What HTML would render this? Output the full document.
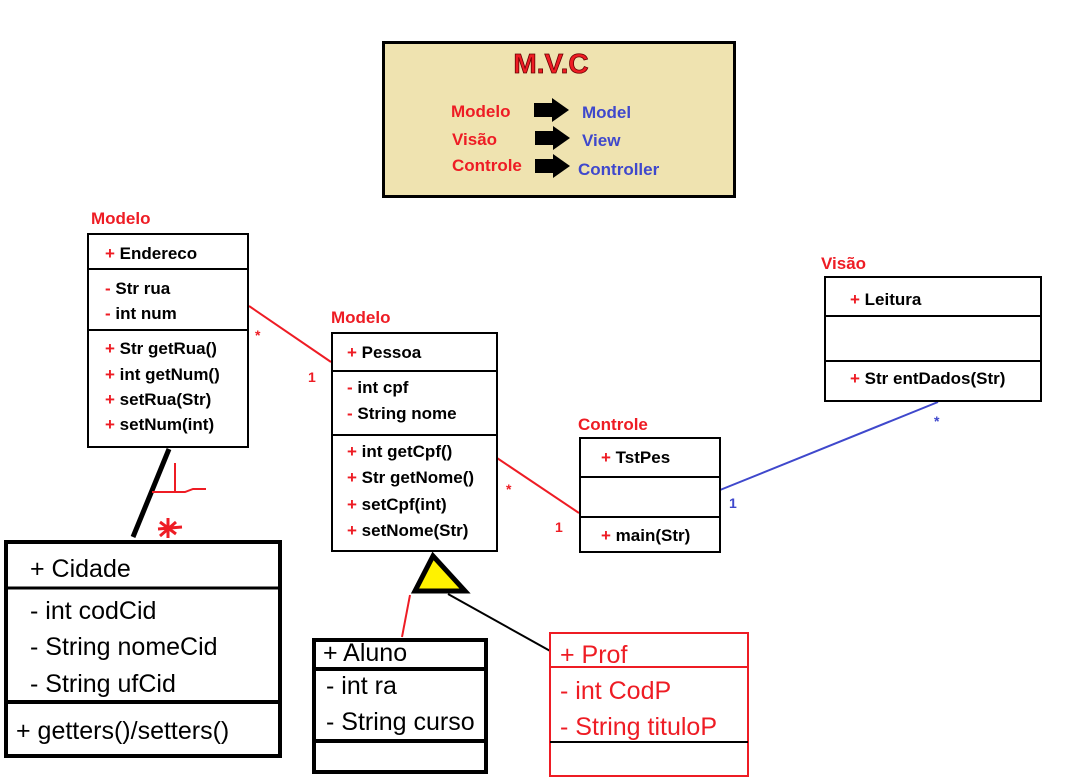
<!DOCTYPE html>
<html><head><meta charset="utf-8"><style>
html,body{margin:0;padding:0;background:#fff;width:1074px;height:782px;overflow:hidden}
svg{display:block}
.b{font-family:"Liberation Sans",sans-serif;font-weight:bold;font-size:17px}
.n{font-family:"Liberation Sans",sans-serif;font-size:25px}
</style></head><body>
<svg width="1074" height="782" viewBox="0 0 1074 782" xmlns="http://www.w3.org/2000/svg">
<rect x="383.5" y="42.5" width="351" height="154" fill="#efe3b0" stroke="#000" stroke-width="3"/>
<text x="551" y="73" text-anchor="middle" font-family="Liberation Sans,sans-serif" font-weight="bold" font-size="28" fill="#ee1c24" stroke="#600" stroke-width="0.8">M.V.C</text>
<g class="b" fill="#ee1c24">
<text x="451" y="117">Modelo</text>
<text x="452" y="145">Visão</text>
<text x="452" y="171">Controle</text>
</g>
<g class="b" fill="#3f48cc">
<text x="582" y="118">Model</text>
<text x="582" y="146">View</text>
<text x="578" y="175">Controller</text>
</g>
<g fill="#000">
<polygon points="534,103 552,103 552,98 569,110 552,122 552,117 534,117"/>
<polygon points="535,131 553,131 553,126 570,138 553,150 553,145 535,145"/>
<polygon points="535,159 553,159 553,154 570,166 553,178 553,173 535,173"/>
</g>
<g class="b" fill="#ee1c24">
<text x="91" y="224">Modelo</text>
<text x="331" y="323">Modelo</text>
<text x="578" y="430">Controle</text>
<text x="821" y="269">Visão</text>
</g>
<line x1="249" y1="306" x2="331" y2="362" stroke="#ee1c24" stroke-width="2"/>
<line x1="497" y1="458" x2="579" y2="513" stroke="#ee1c24" stroke-width="2"/>
<line x1="720" y1="490" x2="938" y2="402" stroke="#3f48cc" stroke-width="2"/>
<line x1="169" y1="449" x2="133" y2="537" stroke="#000" stroke-width="5"/>
<path d="M175,463 L175,492 M152,492 L185,492 L193,489 L206,489" stroke="#ee1c24" stroke-width="2" fill="none"/>
<path d="M160,522 L176,534 M176,522 L160,536 M168,518 L168,538 M158,529 L182,527" stroke="#ee1c24" stroke-width="3" fill="none"/>
<g class="b" fill="#ee1c24">
<text x="255" y="340" font-size="14">*</text>
<text x="308" y="382" font-size="14">1</text>
<text x="506" y="494" font-size="14">*</text>
<text x="555" y="532" font-size="14">1</text>
</g>
<g class="b" fill="#3f48cc">
<text x="729" y="508" font-size="14">1</text>
<text x="934" y="426" font-size="14">*</text>
</g>
<line x1="410" y1="595" x2="402" y2="637" stroke="#ee1c24" stroke-width="2"/>
<line x1="448" y1="594" x2="552" y2="652" stroke="#000" stroke-width="2"/>
<polygon points="433,556 415,591 465,591" fill="#fff200" stroke="#000" stroke-width="5" stroke-linejoin="miter"/>
<rect x="88" y="234" width="160" height="213" fill="#fff" stroke="#000" stroke-width="2"/>
<line x1="88" y1="269" x2="248" y2="269" stroke="#000" stroke-width="2"/>
<line x1="88" y1="330" x2="248" y2="330" stroke="#000" stroke-width="2"/>
<g class="b" fill="#000">
<text x="105" y="259"><tspan fill="#ee1c24">+</tspan> Endereco</text>
<text x="105" y="294"><tspan fill="#ee1c24">-</tspan> Str rua</text>
<text x="105" y="319"><tspan fill="#ee1c24">-</tspan> int num</text>
<text x="105" y="354"><tspan fill="#ee1c24">+</tspan> Str getRua()</text>
<text x="105" y="380"><tspan fill="#ee1c24">+</tspan> int getNum()</text>
<text x="105" y="405"><tspan fill="#ee1c24">+</tspan> setRua(Str)</text>
<text x="105" y="430"><tspan fill="#ee1c24">+</tspan> setNum(int)</text>
</g>
<rect x="332" y="333" width="165" height="218" fill="#fff" stroke="#000" stroke-width="2"/>
<line x1="332" y1="371" x2="497" y2="371" stroke="#000" stroke-width="2"/>
<line x1="332" y1="435" x2="497" y2="435" stroke="#000" stroke-width="2"/>
<g class="b" fill="#000">
<text x="347" y="358"><tspan fill="#ee1c24">+</tspan> Pessoa</text>
<text x="347" y="393"><tspan fill="#ee1c24">-</tspan> int cpf</text>
<text x="347" y="419"><tspan fill="#ee1c24">-</tspan> String nome</text>
<text x="347" y="457"><tspan fill="#ee1c24">+</tspan> int getCpf()</text>
<text x="347" y="483"><tspan fill="#ee1c24">+</tspan> Str getNome()</text>
<text x="347" y="510"><tspan fill="#ee1c24">+</tspan> setCpf(int)</text>
<text x="347" y="536"><tspan fill="#ee1c24">+</tspan> setNome(Str)</text>
</g>
<rect x="580" y="438" width="140" height="114" fill="#fff" stroke="#000" stroke-width="2"/>
<line x1="580" y1="477" x2="720" y2="477" stroke="#000" stroke-width="2"/>
<line x1="580" y1="517" x2="720" y2="517" stroke="#000" stroke-width="2"/>
<g class="b" fill="#000">
<text x="601" y="463"><tspan fill="#ee1c24">+</tspan> TstPes</text>
<text x="601" y="541"><tspan fill="#ee1c24">+</tspan> main(Str)</text>
</g>
<rect x="825" y="277" width="216" height="124" fill="#fff" stroke="#000" stroke-width="2"/>
<line x1="825" y1="316" x2="1041" y2="316" stroke="#000" stroke-width="2"/>
<line x1="825" y1="361" x2="1041" y2="361" stroke="#000" stroke-width="2"/>
<g class="b" fill="#000">
<text x="850" y="305"><tspan fill="#ee1c24">+</tspan> Leitura</text>
<text x="850" y="384"><tspan fill="#ee1c24">+</tspan> Str entDados(Str)</text>
</g>
<rect x="6" y="542" width="274" height="214" fill="#fff" stroke="#000" stroke-width="4"/>
<line x1="6" y1="588" x2="280" y2="588" stroke="#000" stroke-width="3"/>
<line x1="6" y1="702" x2="280" y2="702" stroke="#000" stroke-width="4"/>
<g class="n" fill="#000">
<text x="30" y="577">+ Cidade</text>
<text x="30" y="619">- int codCid</text>
<text x="30" y="655">- String nomeCid</text>
<text x="30" y="692">- String ufCid</text>
<text x="16" y="739">+ getters()/setters()</text>
</g>
<rect x="314" y="640" width="172" height="132" fill="#fff" stroke="#000" stroke-width="4"/>
<line x1="314" y1="669" x2="486" y2="669" stroke="#000" stroke-width="4"/>
<line x1="314" y1="741" x2="486" y2="741" stroke="#000" stroke-width="4"/>
<g class="n" fill="#000">
<text x="323" y="661">+ Aluno</text>
<text x="326" y="694">- int ra</text>
<text x="326" y="730">- String curso</text>
</g>
<rect x="550" y="633" width="198" height="143" fill="#fff" stroke="#ee1c24" stroke-width="2"/>
<line x1="550" y1="667" x2="748" y2="667" stroke="#ee1c24" stroke-width="2"/>
<line x1="550" y1="742" x2="748" y2="742" stroke="#000" stroke-width="2"/>
<g class="n" fill="#ee1c24">
<text x="560" y="663">+ Prof</text>
<text x="560" y="699">- int CodP</text>
<text x="560" y="735">- String tituloP</text>
</g>
</svg>
</body></html>
